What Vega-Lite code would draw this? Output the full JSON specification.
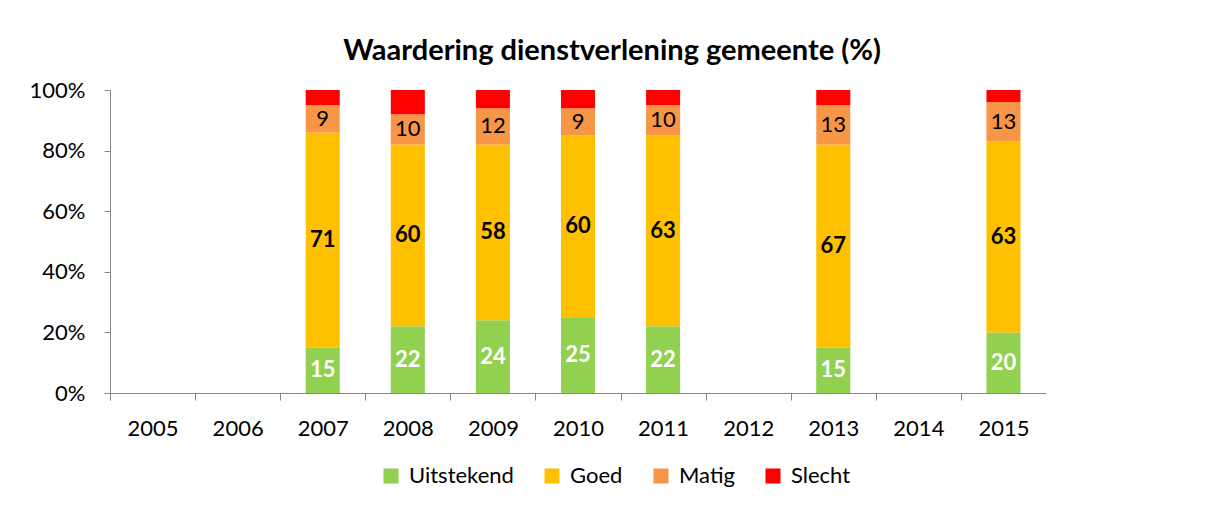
{
  "$schema": "https://vega.github.io/schema/vega-lite/v6.json",
  "width": 936,
  "height": 303,
  "autosize": {"type": "none"},
  "padding": {"left": 110, "top": 90, "right": 162, "bottom": 115},
  "background": "white",
  "title": {
    "text": "Waardering dienstverlening gemeente (%)",
    "font": "Lato",
    "fontSize": 29,
    "fontWeight": "bold",
    "color": "#000000",
    "anchor": "middle",
    "dx": 34,
    "offset": 13
  },
  "data": {
    "values": [
      {"year": "2007", "cat": "Uitstekend", "order": 1, "value": 15},
      {"year": "2007", "cat": "Goed", "order": 2, "value": 71},
      {"year": "2007", "cat": "Matig", "order": 3, "value": 9},
      {"year": "2007", "cat": "Slecht", "order": 4, "value": 5},
      {"year": "2008", "cat": "Uitstekend", "order": 1, "value": 22},
      {"year": "2008", "cat": "Goed", "order": 2, "value": 60},
      {"year": "2008", "cat": "Matig", "order": 3, "value": 10},
      {"year": "2008", "cat": "Slecht", "order": 4, "value": 8},
      {"year": "2009", "cat": "Uitstekend", "order": 1, "value": 24},
      {"year": "2009", "cat": "Goed", "order": 2, "value": 58},
      {"year": "2009", "cat": "Matig", "order": 3, "value": 12},
      {"year": "2009", "cat": "Slecht", "order": 4, "value": 6},
      {"year": "2010", "cat": "Uitstekend", "order": 1, "value": 25},
      {"year": "2010", "cat": "Goed", "order": 2, "value": 60},
      {"year": "2010", "cat": "Matig", "order": 3, "value": 9},
      {"year": "2010", "cat": "Slecht", "order": 4, "value": 6},
      {"year": "2011", "cat": "Uitstekend", "order": 1, "value": 22},
      {"year": "2011", "cat": "Goed", "order": 2, "value": 63},
      {"year": "2011", "cat": "Matig", "order": 3, "value": 10},
      {"year": "2011", "cat": "Slecht", "order": 4, "value": 5},
      {"year": "2013", "cat": "Uitstekend", "order": 1, "value": 15},
      {"year": "2013", "cat": "Goed", "order": 2, "value": 67},
      {"year": "2013", "cat": "Matig", "order": 3, "value": 13},
      {"year": "2013", "cat": "Slecht", "order": 4, "value": 5},
      {"year": "2015", "cat": "Uitstekend", "order": 1, "value": 20},
      {"year": "2015", "cat": "Goed", "order": 2, "value": 63},
      {"year": "2015", "cat": "Matig", "order": 3, "value": 13},
      {"year": "2015", "cat": "Slecht", "order": 4, "value": 4}
    ]
  },
  "transform": [
    {"stack": "value", "groupby": ["year"], "sort": [{"field": "order", "order": "ascending"}], "as": ["v0", "v1"]},
    {"calculate": "(datum.v0 + datum.v1) / 2", "as": "mid"}
  ],
  "encoding": {
    "x": {
      "field": "year",
      "type": "ordinal",
      "scale": {
        "domain": ["2005", "2006", "2007", "2008", "2009", "2010", "2011", "2012", "2013", "2014", "2015"],
        "paddingInner": 0.6,
        "paddingOuter": 0.3
      },
      "axis": {
        "title": null,
        "labelAngle": 0,
        "ticks": true,
        "bandPosition": 0,
        "tickExtra": true,
        "tickOffset": -25.53,
        "labelOffset": 25.53,
        "tickSize": 7,
        "labelPadding": 18,
        "labelFont": "Lato",
        "labelFontSize": 22,
        "labelColor": "#000000",
        "domainColor": "#868686",
        "tickColor": "#868686",
        "grid": false
      }
    }
  },
  "layer": [
    {
      "mark": {"type": "bar"},
      "encoding": {
        "y": {
          "field": "v0",
          "type": "quantitative",
          "scale": {"domain": [0, 100], "nice": false},
          "axis": {
            "title": null,
            "values": [0, 20, 40, 60, 80, 100],
            "labelExpr": "datum.value + '%'",
            "tickSize": 6,
            "labelPadding": 19,
            "labelFont": "Lato",
            "labelFontSize": 22,
            "labelColor": "#000000",
            "domainColor": "#868686",
            "tickColor": "#868686",
            "grid": false
          }
        },
        "y2": {"field": "v1"},
        "color": {
          "field": "cat",
          "type": "nominal",
          "scale": {
            "domain": ["Uitstekend", "Goed", "Matig", "Slecht"],
            "range": ["#92D050", "#FFC000", "#F79646", "#FF0000"]
          },
          "legend": {
            "title": null,
            "orient": "none",
            "direction": "horizontal",
            "legendX": 270,
            "legendY": 375,
            "symbolType": "square",
            "symbolSize": 225,
            "symbolStrokeWidth": 0,
            "labelFont": "Lato",
            "labelFontSize": 22,
            "labelColor": "#000000",
            "labelOffset": 7,
            "columnPadding": 27,
            "padding": 0
          }
        }
      }
    },
    {
      "transform": [{"filter": "datum.cat === 'Uitstekend'"}],
      "mark": {"type": "text", "font": "Lato", "fontSize": 22, "fontWeight": "bold", "color": "#FFFFFF", "baseline": "middle"},
      "encoding": {"y": {"field": "mid", "type": "quantitative"}, "text": {"field": "value", "type": "quantitative"}}
    },
    {
      "transform": [{"filter": "datum.cat === 'Goed'"}],
      "mark": {"type": "text", "font": "Lato", "fontSize": 22, "fontWeight": "bold", "color": "#000000", "baseline": "middle"},
      "encoding": {"y": {"field": "mid", "type": "quantitative"}, "text": {"field": "value", "type": "quantitative"}}
    },
    {
      "transform": [{"filter": "datum.cat === 'Matig'"}],
      "mark": {"type": "text", "font": "Lato", "fontSize": 22, "color": "#000000", "baseline": "middle"},
      "encoding": {"y": {"field": "mid", "type": "quantitative"}, "text": {"field": "value", "type": "quantitative"}}
    }
  ],
  "config": {"view": {"stroke": null}}
}
